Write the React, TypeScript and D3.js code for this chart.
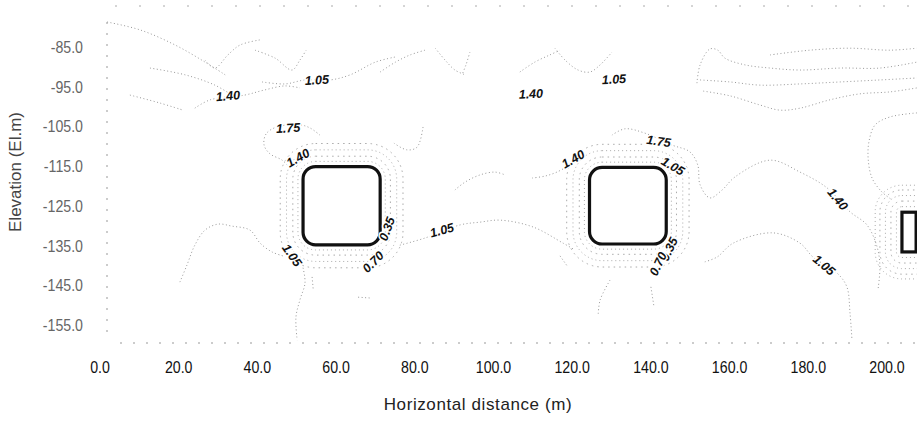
import React, { useEffect, useRef } from 'react';
import * as d3 from 'd3';

// axis ticks
const xTicks = [0, 20, 40, 60, 80, 100, 120, 140, 160, 180, 200];
const yTicks = [-85, -95, -105, -115, -125, -135, -145, -155];

// tunnel outlines (m, El.m)
const tunnels = [
  { x0: 51.6, x1: 71.2, top: -115.1, bottom: -134.8, r: 3.2 },
  { x0: 124.4, x1: 143.9, top: -115.3, bottom: -134.6, r: 3.2 },
  { x0: 203.8, x1: 207.4, top: -126.6, bottom: -136.6, r: 0 },
];

// concentric contour rings around each tunnel (offset in m)
const ringOffsets = [
  [1.3, 2.6, 4.2, 5.8],
  [1.3, 2.6, 4.2, 5.8],
  [1.4, 2.8, 4.2, 5.6, 6.8],
];

// contour polylines: [distance, elevation]
const contourLines: [number, number][][] = [
  [[1.8, -78.7], [10.2, -80.7], [19.1, -84.5], [26.7, -88.8], [31.8, -92.0]],
  [[12.7, -90.3], [21.6, -92.0], [29.2, -94.6], [33.5, -97.1]],
  [[7.6, -97.1], [15.2, -99.1], [21.1, -100.9]],
  [[24.1, -100.4], [28.0, -98.3], [36.8, -97.1], [41.9, -95.8], [47.0, -94.8], [50.8, -95.3]],
  [[26.7, -88.3], [29.2, -90.3], [32.5, -87.0], [35.6, -84.5], [40.7, -83.2]],
  [[39.4, -85.8], [44.5, -87.8], [48.8, -90.8], [50.8, -88.3], [52.4, -85.8]],
  [[41.2, -93.8], [47.0, -94.3], [52.1, -93.3], [58.5, -93.3], [63.6, -92.0], [70.0, -88.8], [75.1, -87.5]],
  [[71.2, -91.3], [75.1, -88.8], [78.8, -87.0], [82.6, -85.8]],
  [[85.2, -85.3], [87.7, -88.3], [90.2, -90.8], [92.8, -92.0]],
  [[94.0, -86.3], [93.0, -89.5], [92.0, -92.0]],
  [[106.7, -91.3], [110.5, -88.8], [114.3, -87.0], [116.9, -85.8]],
  [[115.6, -85.3], [118.2, -88.3], [121.5, -90.8], [124.5, -91.3], [127.1, -89.5], [130.1, -86.3]],
  [[151.7, -94.1], [152.5, -89.5], [155.0, -85.5], [157.0, -85.8], [158.8, -87.8], [163.9, -89.5], [170.3, -90.3], [177.9, -90.8], [188.1, -90.3], [198.2, -90.3], [207.6, -88.8]],
  [[152.5, -93.3], [160.1, -93.8], [167.7, -94.6], [177.9, -94.3], [188.1, -93.8], [198.2, -93.3], [207.6, -92.8]],
  [[153.3, -96.1], [160.1, -97.3], [167.7, -99.6], [172.8, -100.9], [177.9, -100.4], [185.5, -98.3], [193.1, -96.8], [200.8, -96.3], [207.6, -95.3]],
  [[170.3, -87.0], [180.4, -85.8], [190.6, -85.3], [200.8, -85.8], [207.6, -85.3]],
  [[207.6, -101.6], [200.8, -102.6], [197.0, -104.6], [195.5, -108.4], [195.2, -112.9], [196.2, -118.0], [198.7, -121.5], [201.3, -123.5]],
  [[130.1, -107.2], [133.4, -105.6], [138.5, -106.7], [145.4, -109.7], [149.9, -111.4], [151.9, -114.7], [152.5, -119.7], [155.0, -123.0], [158.1, -121.0], [161.4, -117.7], [170.3, -113.5], [177.9, -116.5], [184.8, -120.5], [190.6, -126.5], [194.9, -129.8], [197.5, -135.4], [198.2, -140.4], [197.7, -146.2]],
  [[153.7, -139.1], [156.8, -137.9], [160.9, -134.4], [171.0, -131.8], [177.9, -134.4], [181.2, -137.9], [187.3, -141.9], [189.8, -145.4], [190.6, -152.0], [191.1, -158.8]],
  [[76.2, -134.9], [82.6, -133.1], [91.5, -129.8], [96.6, -129.1], [101.7, -128.6], [110.0, -130.3], [117.7, -134.4], [120.7, -136.1]],
  [[74.7, -109.2], [78.0, -110.9], [80.6, -110.2], [82.1, -105.1]],
  [[90.2, -121.0], [92.8, -119.0], [96.6, -117.2], [100.4, -116.5], [102.9, -117.2]],
  [[109.8, -118.0], [113.1, -117.5], [116.1, -116.5], [119.4, -114.7]],
  [[20.3, -144.2], [22.1, -139.9], [24.1, -134.9], [26.7, -131.1], [30.0, -129.6], [33.5, -130.1], [38.1, -131.1], [40.7, -134.4], [43.7, -136.6], [46.5, -137.6]],
  [[51.6, -140.6], [52.1, -144.4], [50.8, -148.7], [49.8, -153.0], [50.1, -158.8]],
  [[53.9, -142.9], [54.2, -146.2]],
  [[65.6, -148.0], [68.6, -148.2]],
  [[55.9, -107.2], [53.4, -105.4], [50.8, -104.6], [45.0, -105.1], [42.2, -106.9], [41.7, -109.7], [43.2, -111.9], [46.3, -113.5], [48.3, -115.5]],
  [[116.9, -137.6], [118.7, -140.1]],
  [[129.6, -143.7], [127.1, -148.7], [126.6, -152.5]],
  [[140.0, -145.4], [140.8, -150.5]],
];

// contour value labels: text, position, angle
const contourLabels = [
  { text: '1.40', x: 32.5, y: -97.3, angle: -5 },
  { text: '1.05', x: 55.1, y: -93.3, angle: -3 },
  { text: '1.75', x: 47.8, y: -105.4, angle: -3 },
  { text: '1.40', x: 50.3, y: -112.9, angle: -30 },
  { text: '1.05', x: 48.8, y: -137.4, angle: 55 },
  { text: '0.35', x: 72.9, y: -130.8, angle: -70 },
  { text: '0.70', x: 69.4, y: -139.1, angle: -45 },
  { text: '1.05', x: 86.9, y: -131.1, angle: -15 },
  { text: '1.40', x: 109.5, y: -96.8, angle: -3 },
  { text: '1.05', x: 130.6, y: -93.1, angle: -3 },
  { text: '1.40', x: 120.2, y: -113.2, angle: -30 },
  { text: '1.75', x: 142.0, y: -108.7, angle: 8 },
  { text: '1.05', x: 145.6, y: -115.0, angle: 30 },
  { text: '0.35', x: 144.6, y: -135.9, angle: -65 },
  { text: '0.70', x: 141.8, y: -139.6, angle: -65 },
  { text: '1.40', x: 187.5, y: -123.3, angle: 50 },
  { text: '1.05', x: 184.0, y: -139.9, angle: 40 },
];

function App() {
  const svgRef = useRef<SVGSVGElement>(null);

  useEffect(() => {
    const w = 917;
    const h = 421;
    const sans = '"Liberation Sans", Arial, sans-serif';

    const svg = d3.select(svgRef.current)
      .attr('width', w)
      .attr('height', h)
      .style('position', 'absolute')
      .style('left', 0)
      .style('top', 0)
      .style('background', '#fff');
    svg.selectAll('*').remove();

    const x = d3.scaleLinear().domain([0, 200]).range([100, 887]);
    const y = d3.scaleLinear().domain([-85, -155]).range([47, 325]);

    // plot frame limits
    const left = 107, right = 917, top = 6, bottom = 343;

    svg.append('defs').append('clipPath').attr('id', 'plotclip')
      .append('rect')
      .attr('x', left).attr('y', top)
      .attr('width', right - left).attr('height', bottom - top);

    // faint dotted frame
    svg.append('line')
      .attr('x1', left).attr('x2', left).attr('y1', 22).attr('y2', 332)
      .attr('stroke', '#999').attr('stroke-width', 1).attr('stroke-dasharray', '2,9');
    svg.append('line')
      .attr('x1', 115).attr('x2', right).attr('y1', top).attr('y2', top)
      .attr('stroke', '#aaa').attr('stroke-width', 1).attr('stroke-dasharray', '2,22');
    svg.append('line')
      .attr('x1', 120).attr('x2', right).attr('y1', bottom).attr('y2', bottom)
      .attr('stroke', '#999').attr('stroke-width', 1).attr('stroke-dasharray', '2,11');

    const plot = svg.append('g').attr('clip-path', 'url(#plotclip)');

    const line = d3.line<[number, number]>()
      .x(d => x(d[0]))
      .y(d => y(d[1]))
      .curve(d3.curveCatmullRom.alpha(0.5));

    plot.selectAll(null)
      .data(contourLines)
      .enter()
      .append('path')
      .attr('d', d => line(d))
      .attr('fill', 'none')
      .attr('stroke', '#999')
      .attr('stroke-width', 1)
      .attr('stroke-dasharray', '1,2.5');

    // rings around tunnels
    tunnels.forEach((t, i) => {
      plot.selectAll(null)
        .data(ringOffsets[i])
        .enter()
        .append('rect')
        .attr('x', o => x(t.x0 - o))
        .attr('y', o => y(t.top + o))
        .attr('width', o => x(t.x1 + o) - x(t.x0 - o))
        .attr('height', o => y(t.bottom - o) - y(t.top + o))
        .attr('rx', o => x(t.r + o) - x(0))
        .attr('fill', 'none')
        .attr('stroke', '#aaa')
        .attr('stroke-width', 1)
        .attr('stroke-dasharray', (o, j) => j % 2 ? '1.5,4' : '1,3');
    });

    // tunnel outlines
    plot.selectAll(null)
      .data(tunnels)
      .enter()
      .append('rect')
      .attr('x', t => x(t.x0))
      .attr('y', t => y(t.top))
      .attr('width', t => x(t.x1) - x(t.x0))
      .attr('height', t => y(t.bottom) - y(t.top))
      .attr('rx', t => x(t.r) - x(0))
      .attr('fill', '#fff')
      .attr('stroke', '#111')
      .attr('stroke-width', 3.2);

    // contour labels
    plot.selectAll(null)
      .data(contourLabels)
      .enter()
      .append('text')
      .attr('transform', d => `translate(${x(d.x)},${y(d.y)}) rotate(${d.angle})`)
      .attr('text-anchor', 'middle')
      .attr('dy', '0.35em')
      .text(d => d.text)
      .style('font-family', sans)
      .style('font-size', '12.5px')
      .style('font-style', 'italic')
      .style('font-weight', 'bold')
      .style('fill', '#111')
      .style('stroke', '#fff')
      .style('stroke-width', '3px')
      .style('paint-order', 'stroke');

    // x tick labels (condensed look)
    svg.append('g')
      .selectAll(null)
      .data(xTicks)
      .enter()
      .append('text')
      .attr('transform', d => `translate(${x(d)},373) scale(0.86,1)`)
      .attr('text-anchor', 'middle')
      .text(d => d3.format('.1f')(d))
      .style('font-family', sans)
      .style('font-size', '16.5px')
      .style('fill', '#111');

    // y tick labels
    svg.append('g')
      .selectAll(null)
      .data(yTicks)
      .enter()
      .append('text')
      .attr('transform', d => `translate(83,${y(d)}) scale(0.86,1)`)
      .attr('dy', '0.36em')
      .attr('text-anchor', 'end')
      .text(d => d3.format('.1f')(d).replace('−', '-'))
      .style('font-family', sans)
      .style('font-size', '16.5px')
      .style('fill', '#666');

    // axis titles
    svg.append('text')
      .attr('x', 478)
      .attr('y', 410)
      .attr('text-anchor', 'middle')
      .text('Horizontal distance (m)')
      .style('font-family', sans)
      .style('font-size', '17px')
      .style('letter-spacing', '0.6px')
      .style('fill', '#222');

    svg.append('text')
      .attr('transform', 'translate(21,172) rotate(-90)')
      .attr('text-anchor', 'middle')
      .text('Elevation (El.m)')
      .style('font-family', sans)
      .style('font-size', '17px')
      .style('fill', '#444');
  }, []);

  return <svg ref={svgRef}></svg>;
}

export default App;
